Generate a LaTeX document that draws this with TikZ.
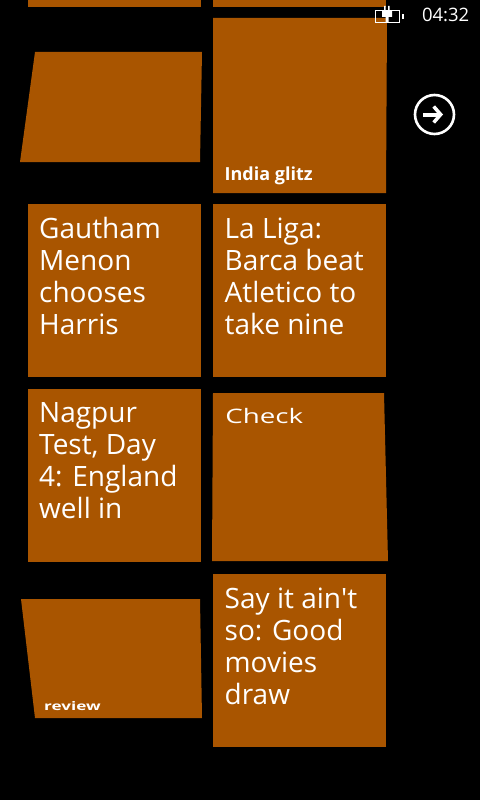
\documentclass[tikz,border=0pt]{standalone}
\usepackage{fontspec}
\setmainfont{Open Sans}
\usetikzlibrary{arrows.meta}
\definecolor{tile}{HTML}{A95500}
\tikzset{
  tilebox/.style={fill=tile,draw=none},
  big/.style={text=white,anchor=north west,inner sep=0pt,align=left,font=\fontsize{28}{32}\selectfont},
  small/.style={text=white,anchor=base west,inner sep=0pt,font=\fontsize{18}{20}\selectfont},
}
\begin{document}
\begin{tikzpicture}[x=1pt,y=-1pt]
\useasboundingbox[fill=black] (0,0) rectangle (480,800);
% tiles
\fill[tilebox] (28,0) rectangle (201,7);
\fill[tilebox] (213,0) rectangle (386,7);
\fill[tilebox] (213,18) -- (387,18) -- (386,193) -- (213,193) -- cycle;
\fill[tilebox] (35,52) -- (202,52) -- (200,162) -- (20,162) -- cycle;
\fill[tilebox] (28,204) rectangle (201,377);
\fill[tilebox] (213,204) rectangle (386,377);
\fill[tilebox] (28,389) rectangle (201,562);
\fill[tilebox] (213,393) -- (384,393) -- (388,561) -- (212,561) -- cycle;
\fill[tilebox] (21,599) -- (200,599) -- (202,718) -- (35,718) -- cycle;
\fill[tilebox] (213,574) rectangle (386,747);
% texts
\node[small,font=\fontsize{18}{20}\selectfont\bfseries] (glitz) at (224.5,180) {India glitz};
\node[big] (gautham) at (39,217.5) {Gautham\\Menon\\chooses\\Harris};
\node[big] (liga) at (224.5,217.5) {La Liga:\\Barca beat\\Atletico to\\take nine};
\node[big] (nagpur) at (39,402.5) {Nagpur\\Test, Day\\4: England\\well in};
\node[big] (sayit) at (224.5,587.5) {Say it ain\textquotesingle t\\so: Good\\movies\\draw};
\node[small,font=\fontsize{21}{24}\selectfont,xscale=1.32,yscale=.95] (check) at (225,423) {Check};
\node[small,font=\fontsize{14}{16}\selectfont\bfseries,xscale=1.22,yscale=.85] (review) at (44,710.5) {review};
% status bar
\node[text=white,anchor=base east,inner sep=0pt,font=\fontsize{18.5}{20}\selectfont] (clock) at (469.5,22) {04:32};
\draw[white,line width=.8pt] (375,10.5) rectangle (399,22);
\fill[white] (401.5,14) rectangle (403.5,19);
\fill[white] (382,11) rectangle (392,17) (385.5,17) rectangle (388.5,23) (384,6) rectangle (385.5,11) (388,6) rectangle (389.5,11);
% forward button
\draw[white,line width=2.6pt] (434.5,114.5) circle (19.5);
\draw[white,line width=4pt,-{Straight Barb[length=7pt,width=16pt,line width=3.5pt]}] (423,114.5) -- (443,114.5);
\end{tikzpicture}
\end{document}
